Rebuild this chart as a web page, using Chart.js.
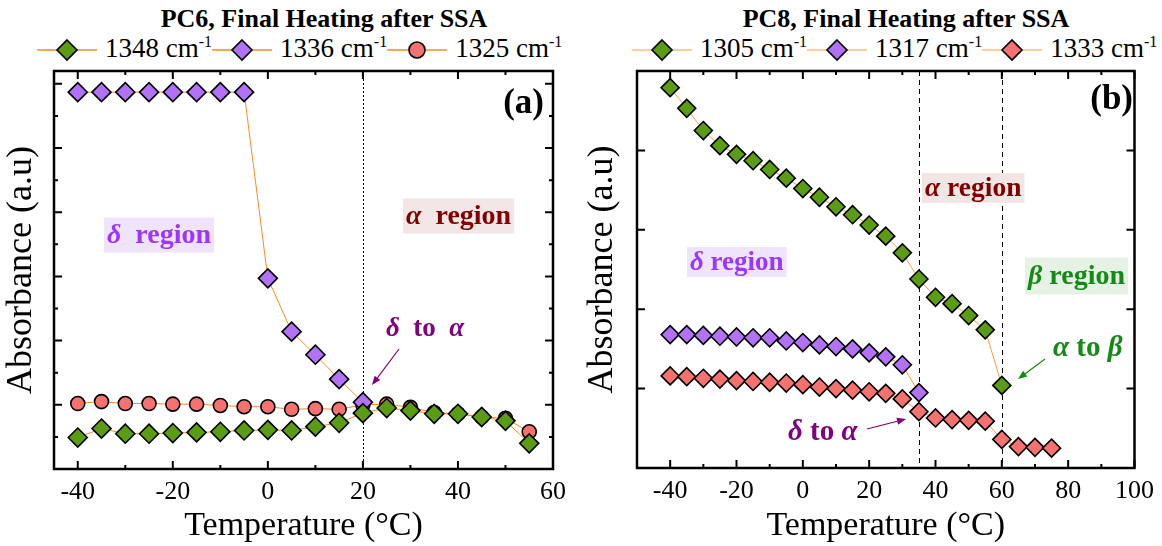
<!DOCTYPE html>
<html><head><meta charset="utf-8">
<script src="https://cdn.jsdelivr.net/npm/chart.js@4.4.0/dist/chart.umd.min.js"></script>
<style>
html,body{margin:0;padding:0;background:#fff;width:1162px;height:546px;overflow:hidden;font-family:"Liberation Serif","Times New Roman",serif;color:#000;}
canvas{position:absolute;top:0;}
#ca{left:0;} #cb{left:581px;}
.title{position:absolute;top:5px;font-weight:bold;font-size:26px;line-height:28px;white-space:nowrap;transform:translateX(-50%);}
.legend{position:absolute;top:34px;display:flex;align-items:center;white-space:nowrap;font-size:27px;line-height:28px;}
.legend .item{display:flex;align-items:center;}
.legend svg{display:block;margin-right:8px;}
.legend sup{font-size:16px;vertical-align:0;position:relative;top:-10px;}
</style>
</head><body>
<div class="title" style="left:324px">PC6, Final Heating after SSA</div>
<div class="title" style="left:906px">PC8, Final Heating after SSA</div>
<div class="legend" id="legA" style="left:37px"></div>
<div class="legend" id="legB" style="left:632px"></div>
<canvas id="ca" width="581" height="546"></canvas>
<canvas id="cb" width="581" height="546"></canvas>
<script>
// ---------- Panel (a): PC6 ----------
const tempsA = [-40,-35,-30,-25,-20,-15,-10,-5,0,5,10,15,20,25,30,35,40,45,50,55];
const a1348 = [0.49,0.63,0.55,0.55,0.56,0.57,0.58,0.60,0.61,0.60,0.66,0.72,0.87,0.95,0.91,0.86,0.86,0.81,0.75,0.40];
const temps1336 = [-40,-35,-30,-25,-20,-15,-10,-5,0,5,10,15,20];
const a1336 = [5.87,5.87,5.87,5.87,5.87,5.87,5.87,5.87,2.97,2.14,1.78,1.40,1.04];
const a1325 = [1.02,1.05,1.02,1.02,1.01,1.01,0.99,0.97,0.97,0.93,0.94,0.93,1.00,1.01,0.96,0.88,0.86,0.81,0.79,0.58];
const seriesA = ['1348','1336','1325'];
const xTicksA = [-40,-20,0,20,40,60];
const xMinorA = [-30,-10,10,30,50];
const yMajorA = [1,2,3,4,5,6];
const yMinorA = [0.5,1.5,2.5,3.5,4.5,5.5];
const transitionsA = [20];

// ---------- Panel (b): PC8 ----------
const tempsB = [-40,-35,-30,-25,-20,-15,-10,-5,0,5,10,15,20,25,30,35,40,45,50,55,60,65,70,75];
const temps1305 = [-40,-35,-30,-25,-20,-15,-10,-5,0,5,10,15,20,25,30,35,40,45,50,55,60];
const b1305 = [4.79,4.53,4.25,4.06,3.95,3.87,3.76,3.65,3.52,3.41,3.29,3.19,3.06,2.92,2.71,2.38,2.15,2.07,1.92,1.74,1.04];
const temps1317 = [-40,-35,-30,-25,-20,-15,-10,-5,0,5,10,15,20,25,30,35];
const b1317 = [1.68,1.68,1.67,1.66,1.65,1.64,1.64,1.60,1.58,1.55,1.53,1.50,1.45,1.40,1.30,0.95];
const b1333 = [1.16,1.15,1.13,1.12,1.10,1.09,1.08,1.07,1.05,1.02,1.00,0.98,0.96,0.94,0.87,0.71,0.63,0.61,0.60,0.59,0.36,0.27,0.26,0.25];
const seriesB = ['1305','1317','1333'];
const xTicksB = [-40,-20,0,20,40,60,80,100];
const xMinorB = [-30,-10,10,30,50,70,90];
const yMajorB = [1,2,3,4];
const yMinorB = [];
const transitionsB = [35,60];

const GREEN = '#5c9c14', PURPLE = '#b272f7', RED = '#f77171';
const FONT = "'Liberation Serif', 'Times New Roman', serif";
Chart.defaults.font.family = FONT;
Chart.defaults.color = '#000';

const pts = (xs, ys) => xs.map((x, i) => ({x, y: ys[i]}));

function ds(label, xs, ys, color, style, r, line) {
  return {label, data: pts(xs, ys), showLine: true, borderColor: line, borderWidth: 1,
    pointStyle: style, pointRadius: r, pointBackgroundColor: color, pointBorderColor: '#000',
    pointBorderWidth: 1.6, backgroundColor: color, tension: 0, clip: false};
}

function drawLabel(ctx, L) {
  const size = L.size;
  ctx.save();
  ctx.textBaseline = 'middle';
  let w = 0; const ws = [];
  for (const [t, it] of L.parts) {
    ctx.font = (it ? 'italic ' : '') + 'bold ' + size + 'px ' + FONT;
    const m = ctx.measureText(t).width; ws.push(m); w += m;
  }
  if (L.bg) {
    ctx.fillStyle = L.bg;
    ctx.fillRect(L.x - 3, L.y - L.h / 2, w + 6, L.h);
  }
  let x = L.x;
  ctx.fillStyle = L.color;
  L.parts.forEach(([t, it], i) => {
    ctx.font = (it ? 'italic ' : '') + 'bold ' + size + 'px ' + FONT;
    ctx.fillText(t, x, L.y + 1);
    x += ws[i];
  });
  ctx.restore();
}

function drawArrow(ctx, A) {
  const [x1, y1, x2, y2] = A.p;
  ctx.save();
  ctx.strokeStyle = A.color; ctx.fillStyle = A.color; ctx.lineWidth = 1.2;
  const ang = Math.atan2(y2 - y1, x2 - x1);
  const hl = 9, hw = 3.5;
  const bx = x2 - hl * Math.cos(ang), by = y2 - hl * Math.sin(ang);
  ctx.beginPath(); ctx.moveTo(x1, y1); ctx.lineTo(bx, by); ctx.stroke();
  ctx.beginPath();
  ctx.moveTo(x2, y2);
  ctx.lineTo(bx + hw * Math.sin(ang), by - hw * Math.cos(ang));
  ctx.lineTo(bx - hw * Math.sin(ang), by + hw * Math.cos(ang));
  ctx.closePath(); ctx.fill();
  ctx.restore();
}

const framePlugin = {
  id: 'frame',
  beforeDatasetsDraw(chart, args, o) {
    const {ctx, chartArea: {top, bottom}, scales: {x}} = chart;
    ctx.save();
    ctx.strokeStyle = '#000'; ctx.lineWidth = 1; ctx.setLineDash(o.dash);
    for (const v of o.transitions) {
      const px = Math.round(x.getPixelForValue(v)) + 0.5;
      ctx.beginPath(); ctx.moveTo(px, top); ctx.lineTo(px, bottom); ctx.stroke();
    }
    ctx.restore();
  },
  afterDraw(chart, args, o) {
    const {ctx, chartArea: {left, right, top, bottom}, scales: {x, y}} = chart;
    ctx.save();
    ctx.strokeStyle = '#000'; ctx.lineWidth = 2;
    const tick = (vals, len) => {
      for (const v of vals) {
        const px = x.getPixelForValue(v);
        ctx.beginPath(); ctx.moveTo(px, bottom); ctx.lineTo(px, bottom - len);
        ctx.moveTo(px, top); ctx.lineTo(px, top + len); ctx.stroke();
      }
    };
    const ytick = (vals, len) => {
      for (const v of vals) {
        const py = y.getPixelForValue(v);
        ctx.beginPath(); ctx.moveTo(left, py); ctx.lineTo(left + len, py);
        ctx.moveTo(right, py); ctx.lineTo(right - len, py); ctx.stroke();
      }
    };
    tick(o.xMajor, 8); tick(o.xMinor, 4);
    ytick(o.yMajor, 8); ytick(o.yMinor, 4);
    ctx.lineWidth = 2.5;
    ctx.strokeRect(left, top, right - left, bottom - top);
    ctx.restore();
    for (const L of o.labels) drawLabel(ctx, L);
    for (const A of o.arrows) drawArrow(ctx, A);
    ctx.save();
    ctx.font = 'bold 35px ' + FONT; ctx.fillStyle = '#000';
    ctx.textAlign = 'right'; ctx.textBaseline = 'middle';
    ctx.fillText(o.panel[0], o.panel[1], o.panel[2]);
    ctx.restore();
  }
};

function makeChart(id, c) {
  return new Chart(document.getElementById(id), {
    type: 'scatter',
    data: {datasets: c.datasets},
    options: {
      responsive: false, animation: false, devicePixelRatio: 1,
      layout: {padding: {left: 0, right: c.padRight, top: c.padTop, bottom: 0}},
      plugins: {legend: {display: false}, tooltip: {enabled: false}, frame: c.frame},
      scales: {
        x: {type: 'linear', min: c.xMin, max: c.xMax,
          grid: {display: false, drawTicks: false}, border: {display: false},
          afterBuildTicks: s => { s.ticks = c.xTicks.map(v => ({value: v})); },
          afterFit: s => { s.height = c.xAxisH; },
          ticks: {font: {family: FONT, size: 26}, color: '#000', padding: 8, maxRotation: 0, autoSkip: false,
            callback: v => String(v)},
          title: {display: true, text: 'Temperature (°C)', font: {family: FONT, size: 34}, color: '#000',
            padding: {top: 0, bottom: 0}}},
        y: {type: 'linear', min: c.yMin, max: c.yMax,
          grid: {display: false, drawTicks: false}, border: {display: false},
          ticks: {display: false},
          afterFit: s => { s.width = c.yAxisW; },
          title: {display: true, text: 'Absorbance (a.u)', font: {family: FONT, size: 36}, color: '#000',
            padding: {top: 0, bottom: 0}}}
      }
    },
    plugins: [framePlugin]
  });
}

const LINE_A = '#ff8a1f', LINE_B = '#ff9a40';

makeChart('ca', {
  datasets: [
    ds(seriesA[0], tempsA, a1348, GREEN, 'rectRot', 9.5, LINE_A),
    ds(seriesA[1], temps1336, a1336, PURPLE, 'rectRot', 9.5, LINE_A),
    ds(seriesA[2], tempsA, a1325, RED, 'circle', 7, LINE_A)
  ],
  xMin: -45, xMax: 60, yMin: 0, yMax: 6.2, xTicks: xTicksA,
  padRight: 28, padTop: 71, xAxisH: 77, yAxisW: 54,
  frame: {
    transitions: transitionsA, dash: [2, 2],
    xMajor: xTicksA, xMinor: xMinorA, yMajor: yMajorA, yMinor: yMinorA,
    panel: ['(a)', 544, 104],
    labels: [
      {x: 107, y: 235, h: 35, size: 28, color: '#9b35ff', bg: '#f0e4fd', parts: [['δ', true], ['\u2002region', false]]},
      {x: 406, y: 216, h: 35, size: 28, color: '#800000', bg: '#f3e6e6', parts: [['α', true], ['\u2002region', false]]},
      {x: 386, y: 328, size: 27, color: '#800080', parts: [['δ', true], ['\u2002to\u2002', false], ['α', true]]}
    ],
    arrows: [{p: [399, 349, 372, 385], color: '#800080'}]
  }
});

makeChart('cb', {
  datasets: [
    ds(seriesB[0], temps1305, b1305, GREEN, 'rectRot', 9, LINE_B),
    ds(seriesB[1], temps1317, b1317, PURPLE, 'rectRot', 9, LINE_B),
    ds(seriesB[2], tempsB, b1333, RED, 'rectRot', 9, LINE_B)
  ],
  xMin: -50, xMax: 100, yMin: 0, yMax: 5, xTicks: xTicksB,
  padRight: 23, padTop: 71, xAxisH: 78, yAxisW: 56,
  frame: {
    transitions: transitionsB, dash: [5, 4],
    xMajor: xTicksB, xMinor: xMinorB, yMajor: yMajorB, yMinor: yMinorB,
    panel: ['(b)', 552, 100],
    labels: [
      {x: 344, y: 188, h: 30, size: 27.5, color: '#800000', bg: '#f2e5e5', parts: [['α', true], [' region', false]]},
      {x: 109, y: 262, h: 30, size: 27, color: '#9b35ff', bg: '#f0e4fd', parts: [['δ', true], [' region', false]]},
      {x: 447, y: 276, h: 37, size: 28, color: '#138a13', bg: '#e6f2e6', parts: [['β', true], [' region', false]]},
      {x: 472, y: 348, size: 29, color: '#138a13', parts: [['α', true], [' to ', false], ['β', true]]},
      {x: 207, y: 432, size: 29, color: '#800080', parts: [['δ', true], [' to ', false], ['α', true]]}
    ],
    arrows: [{p: [464, 359, 437, 379], color: '#138a13'}, {p: [286, 429, 325, 419], color: '#800080'}]
  }
});

// ---------- HTML legends ----------
function legend(el, names, styles, lineColor) {
  names.forEach((n, i) => {
    const [fill, shape] = styles[i];
    const mk = shape === 'circle'
      ? `<circle cx="30" cy="12" r="8" fill="${fill}" stroke="#000" stroke-width="1.6"/>`
      : `<polygon points="30,2 40,12 30,22 20,12" fill="${fill}" stroke="#000" stroke-width="1.6"/>`;
    const it = document.createElement('span');
    it.className = 'item';
    it.innerHTML = `<svg width="60" height="24"><line x1="0" y1="12" x2="60" y2="12" stroke="${lineColor}" stroke-width="1.5"/>${mk}</svg><span>${n} cm<sup>-1</sup></span>`;
    el.appendChild(it);
  });
}
legend(document.getElementById('legA'), seriesA, [[GREEN, 'd'], [PURPLE, 'd'], [RED, 'circle']], '#ff8a1f');
legend(document.getElementById('legB'), seriesB, [[GREEN, 'd'], [PURPLE, 'd'], [RED, 'd']], '#ffbf80');
</script>
</body></html>
